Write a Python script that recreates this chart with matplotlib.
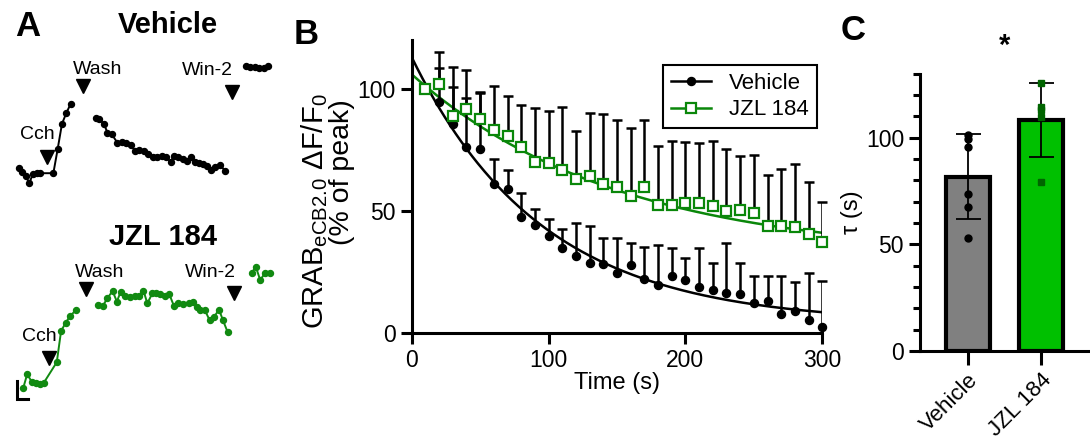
import matplotlib
matplotlib.use("Agg")
import matplotlib.pyplot as plt
import numpy as np
from matplotlib.lines import Line2D

plt.rcParams.update({
    "font.family": ["Liberation Sans", "DejaVu Sans"],
    "mathtext.default": "regular",
    "axes.linewidth": 2.2,
    "xtick.major.width": 2.2,
    "ytick.major.width": 2.2,
    "xtick.minor.width": 2.2,
    "ytick.minor.width": 2.2,
    "xtick.major.size": 8,
    "ytick.major.size": 8,
    "ytick.minor.size": 5,
    "font.size": 16,
})

GREEN = "#118a11"
GREEN_B = "#0a870a"
GREEN_BAR = "#00c000"
GREEN_DOT = "#006400"
GRAY_BAR = "#808080"

# ---------------- Panel A: example traces (time in s, dF/F in %) ----------------
veh_t_cch = [0, 8, 16, 24, 32, 42, 50, 80, 90, 100, 110, 120]
veh_f_cch = [3.9, 2.2, 0.0, -3.7, 1.0, 1.4, 1.4, 1.4, 13.4, 26.0, 31.4, 35.9]
veh_t_wash = [179, 187, 198, 206, 216, 229, 239, 249, 260, 270, 280, 291, 301, 312, 321,
              332, 342, 353, 361, 371, 381, 391, 401, 410, 420, 429, 439, 447, 457, 468, 480]
veh_f_wash = [28.9, 28.4, 26.0, 21.7, 20.9, 16.7, 17.2, 16.7, 15.5, 12.7, 13.0, 12.7, 11.0, 9.7, 9.7,
              10.0, 9.4, 7.2, 10.0, 9.4, 8.4, 7.7, 9.4, 7.2, 6.7, 6.0, 5.0, 3.0, 4.7, 5.5, 2.7]
veh_t_win = [529, 538, 550, 560, 571, 581]
veh_f_win = [55.2, 54.7, 54.4, 53.9, 54.2, 55.2]
veh_event_t = [65, 150, 496]
veh_event_f = [9.7, 45.0, 42.2]

jzl_t_cch = [10, 19, 30, 40, 49, 58, 88, 98, 109, 119, 133]
jzl_f_cch = [-1.9, 4.9, 1.0, 0.4, 0.0, 0.7, 10.9, 26.5, 30.7, 34.0, 37.0]
jzl_t_wash = [185, 195, 206, 218, 228, 237, 247, 259, 270, 280, 290, 299, 311, 319, 329,
              339, 350, 361, 371, 383, 395, 405, 414, 422, 433, 444, 454, 466, 475, 486]
jzl_f_wash = [39.5, 39.0, 42.9, 46.5, 41.2, 46.2, 44.0, 43.7, 44.0, 44.0, 46.7, 40.3, 45.5, 45.7, 45.0,
              44.0, 45.0, 39.0, 40.4, 40.0, 40.4, 41.2, 38.7, 37.0, 37.0, 31.9, 33.4, 37.2, 32.0, 26.0]
jzl_t_win = [542, 552, 562, 573, 585]
jzl_f_win = [55.7, 58.4, 52.0, 55.4, 55.7]
jzl_event_t = [70, 156, 502]
jzl_event_f = [12.9, 47.4, 45.4]

event_names = ["Cch", "Wash", "Win-2"]
scale_t = 25   # s
scale_f = 9    # % dF/F

# ---------------- Panel B: decay of GRAB signal ----------------
time_s = [10, 20, 30, 40, 50, 60, 70, 80, 90, 100, 110, 120, 130, 140, 150,
          160, 170, 180, 190, 200, 210, 220, 230, 240, 250, 260, 270, 280, 290, 300]
veh_mean = [100.0, 94.5, 85.7, 76.1, 75.3, 61.3, 58.9, 47.4, 44.5, 39.8, 35.1, 31.7, 28.6, 28.3, 24.5,
            28.0, 22.4, 19.9, 23.4, 21.7, 19.0, 17.6, 16.3, 15.9, 12.2, 13.2, 8.1, 9.1, 5.6, 2.6]
veh_err = [0.0, 14.0, 15.0, 20.0, 23.0, 10.1, 7.8, 10.2, 6.4, 7.0, 7.5, 13.4, 15.4, 10.9, 14.7,
           8.9, 13.1, 16.3, 11.7, 9.0, 16.1, 11.1, 20.6, 13.0, 11.4, 10.4, 15.5, 12.1, 19.0, 18.8]
jzl_mean = [100.0, 102.2, 89.1, 91.8, 87.7, 83.3, 80.9, 76.2, 70.3, 69.7, 66.9, 63.1, 64.2, 61.2, 59.8,
            56.3, 59.8, 52.5, 52.5, 53.5, 53.2, 51.9, 49.9, 50.5, 49.2, 44.1, 44.1, 43.7, 40.7, 37.5]
jzl_err = [0.0, 12.8, 20.0, 16.0, 11.0, 18.1, 16.3, 17.4, 21.9, 21.1, 25.8, 19.9, 26.0, 28.7, 27.3,
           27.7, 27.6, 24.0, 26.4, 24.6, 24.6, 26.9, 25.5, 22.2, 23.9, 20.8, 23.2, 25.7, 21.2, 16.4]
# one-phase decay fits: plateau, span, tau (s)
veh_fit = (4.0, 109.0, 95.0)
jzl_fit = (31.0, 75.0, 150.0)

# ---------------- Panel C: decay constants ----------------
groups = ["Vehicle", "JZL 184"]
veh_tau = [99.2, 101.3, 95.8, 73.4, 67.3, 53.0]
jzl_tau = [125.8, 113.0, 114.5, 109.5, 79.2]


fig = plt.figure(figsize=(10.9, 4.44), dpi=100)
W, H = 1090.0, 444.0


def trace_panel(ax, segs, event_t, event_f, color):
    for t, f in segs:
        ax.plot(t, f, "-o", color=color, lw=1.4, ms=4.3, mec=color)
    ax.plot(event_t, event_f, "v", color="k", ms=10.5)
    offsets = [(-10, 22), (14, 17), (-24, 21)]
    for name, t, f, off in zip(event_names, event_t, event_f, offsets):
        ax.annotate(name, (t, f), xytext=off, textcoords="offset pixels",
                    ha="center", va="center", fontsize=14)
    ax.set_xlim(-44.3, 631.4)
    ax.axis("off")


ax_a1 = fig.add_axes([0, 1 - 200 / H, 290 / W, 200 / H])
trace_panel(ax_a1, [(veh_t_cch, veh_f_cch), (veh_t_wash, veh_f_wash), (veh_t_win, veh_f_win)],
            veh_event_t, veh_event_f, "k")
ax_a1.set_ylim(-12, 88)
ax_a1.text(0.579, 0.875, "Vehicle", transform=ax_a1.transAxes, ha="center", va="center",
           fontsize=21, fontweight="bold")

ax_a2 = fig.add_axes([0, 0, 290 / W, 244 / H])
trace_panel(ax_a2, [(jzl_t_cch, jzl_f_cch), (jzl_t_wash, jzl_f_wash), (jzl_t_win, jzl_f_win)],
            jzl_event_t, jzl_event_f, GREEN)
ax_a2.set_ylim(-30, 92)
ax_a2.text(0.562, 0.85, "JZL 184", transform=ax_a2.transAxes, ha="center", va="center",
           fontsize=21, fontweight="bold")
sb_t0, sb_f0 = -4, -7.3
ax_a2.plot([sb_t0, sb_t0, sb_t0 + scale_t], [sb_f0 + scale_f, sb_f0, sb_f0],
           color="k", lw=2.2, solid_joinstyle="miter", clip_on=False)

# ---------------- Panel B ----------------
axb = fig.add_axes([411.7 / W, (H - 333.3) / H, 410.6 / W, 293.2 / H])
t_fit = np.linspace(0, 300, 300)
for (p, a, tau), col in [(veh_fit, "k"), (jzl_fit, GREEN_B)]:
    axb.plot(t_fit, p + a * np.exp(-t_fit / tau), color=col, lw=1.8, zorder=2)

# upward-only error bars (vertical line + top cap)
for mean, err in [(jzl_mean, jzl_err), (veh_mean, veh_err)]:
    top = np.array(mean) + np.array(err)
    has = np.array(err) > 0
    axb.vlines(np.array(time_s)[has], np.array(mean)[has], top[has], color="k", lw=1.8, zorder=3)
    axb.plot(np.array(time_s)[has], top[has], "_", color="k", ms=7.5, mew=1.8, zorder=3,
             clip_on=False)
axb.plot(time_s, veh_mean, "o", color="k", ms=5.8, zorder=4, clip_on=False)
axb.plot(time_s, jzl_mean, "s", mfc="white", mec=GREEN_B, mew=1.6, ms=6.5, zorder=5, clip_on=False)

axb.set_xlim(0, 300)
axb.set_ylim(0, 120)
axb.set_xticks([0, 100, 200, 300])
axb.set_yticks([0, 50, 100])
axb.tick_params(labelsize=16.5)
axb.spines["top"].set_visible(False)
axb.spines["right"].set_visible(False)
axb.set_xlabel("Time (s)", fontsize=17, labelpad=0)
fig.text(315 / W, 1 - 211 / H, r"GRAB$_{\mathregular{eCB2.0}}$ ΔF/F$_{\mathregular{0}}$",
         rotation=90, ha="center", va="center", fontsize=21)
fig.text(342 / W, 1 - 172 / H, "(% of peak)", rotation=90, ha="center", va="center", fontsize=20.5)

handles = [
    Line2D([], [], color="k", marker="o", ms=5.8, lw=1.8),
    Line2D([], [], color=GREEN_B, marker="s", mfc="white", mec=GREEN_B, mew=1.6, ms=6.5, lw=1.8),
]
leg = axb.legend(handles, ["Vehicle", "JZL 184"], loc="upper right", bbox_to_anchor=(0.986, 0.915),
                 borderaxespad=0, fancybox=False, framealpha=1, edgecolor="k", fontsize=16,
                 handlelength=1.8, borderpad=0.35, labelspacing=0.25, handletextpad=0.8)
leg.get_frame().set_linewidth(1.5)

# ---------------- Panel C ----------------
axc = fig.add_axes([920 / W, (H - 351) / H, 170 / W, 277.3 / H])
means = [np.mean(veh_tau), np.mean(jzl_tau)]
sds = [np.std(veh_tau, ddof=1), np.std(jzl_tau, ddof=1)]
xpos = [0, 1]
axc.bar(xpos, means, width=0.6, color=[GRAY_BAR, GREEN_BAR], edgecolor="k", linewidth=3, zorder=1)
axc.errorbar(xpos, means, yerr=sds, fmt="none", ecolor="k", elinewidth=1.3, capsize=9,
             capthick=1.3, zorder=3)
axc.plot([xpos[0]] * len(veh_tau), veh_tau, "o", color="k", ms=5, zorder=4)
axc.plot([xpos[1]] * len(jzl_tau), jzl_tau, "s", color=GREEN_DOT, ms=5, zorder=4)
axc.set_xlim(-0.65, 1.67)
axc.set_ylim(0, 130)
axc.set_yticks([0, 50, 100])
axc.set_yticks(np.arange(0, 131, 10), minor=True)
axc.set_xticks(xpos)
axc.set_xticklabels(groups, rotation=45, ha="right", va="top", rotation_mode="anchor", fontsize=16)
axc.tick_params(axis="x", length=10)
axc.tick_params(axis="y", labelsize=16.5)
axc.spines["top"].set_visible(False)
axc.spines["right"].set_visible(False)
axc.set_ylabel("τ (s)", fontsize=17, labelpad=2)
axc.text(0.5, 143, "*", ha="center", va="center", fontsize=21, fontweight="bold", clip_on=False)

fig.text(28 / W, 1 - 27 / H, "A", fontsize=25, fontweight="bold", ha="center", va="center")
fig.text(306 / W, 1 - 35 / H, "B", fontsize=25, fontweight="bold", ha="center", va="center")
fig.text(853 / W, 1 - 30 / H, "C", fontsize=25, fontweight="bold", ha="center", va="center")

fig.savefig("out.png", dpi=100)
